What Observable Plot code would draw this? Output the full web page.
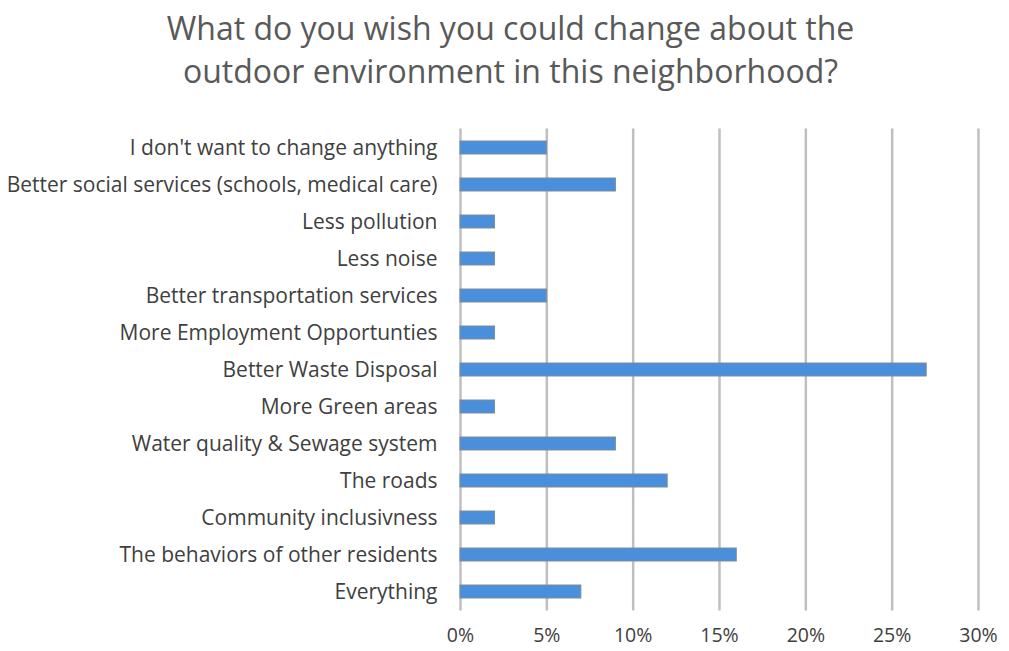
<!DOCTYPE html>
<html>
<head>
<meta charset="utf-8">
<script src="https://cdn.jsdelivr.net/npm/d3@7"></script>
<script src="https://cdn.jsdelivr.net/npm/@observablehq/plot@0.6"></script>
<style>
  html, body { margin: 0; padding: 0; background: #ffffff; }
  #title { width: 1009px; height: 110px; box-sizing: border-box; padding-top: 6px; padding-left: 12px; text-align: center;
    font-family: "Open Sans", sans-serif; font-size: 32px; line-height: 43px; color: #595959; white-space: nowrap; }
  #chart svg { display: block; }
</style>
</head>
<body>
<div id="title">What do you wish you could change about the<br>outdoor environment in this neighborhood?</div>
<div id="chart"></div>
<script>
const categories = [
  "I don't want to change anything",
  "Better social services (schools, medical care)",
  "Less pollution",
  "Less noise",
  "Better transportation services",
  "More Employment Opportunties",
  "Better Waste Disposal",
  "More Green areas",
  "Water quality & Sewage system",
  "The roads",
  "Community inclusivness",
  "The behaviors of other residents",
  "Everything"
];
const percentages = [5, 9, 2, 2, 5, 2, 27, 2, 9, 12, 2, 16, 7];
const xTicks = [0, 5, 10, 15, 20, 25, 30];

const data = categories.map((c, i) => ({category: c, value: percentages[i]}));

const chart = Plot.plot({
  width: 1009,
  height: 541,
  marginTop: 18.5,
  marginBottom: 40.5,
  marginLeft: 460,
  marginRight: 31,
  style: {fontFamily: "Open Sans, sans-serif", fontSize: "21px", color: "#404040", background: "#ffffff", overflow: "visible"},
  x: {domain: [0, 30], ticks: xTicks, tickFormat: d => d + "%", label: null},
  y: {domain: categories, padding: 0, label: null},
  marks: [
    Plot.gridX(xTicks, {stroke: "#bfbfbf", strokeWidth: 2.5, strokeOpacity: 1}),
    Plot.barX(data, {y: "category", x: "value", fill: "#4a8fdc", stroke: "#7f8b98", strokeWidth: 1, insetTop: 12, insetBottom: 12}),
    Plot.axisX(xTicks, {tickSize: 0, tickPadding: 17, tickFormat: d => d + "%", fill: "#404040", fontSize: 19.5}),
    Plot.axisY({tickSize: 0, tickPadding: 23, fill: "#404040", fontSize: 21})
  ]
});
document.getElementById("chart").appendChild(chart);
</script>
</body>
</html>
